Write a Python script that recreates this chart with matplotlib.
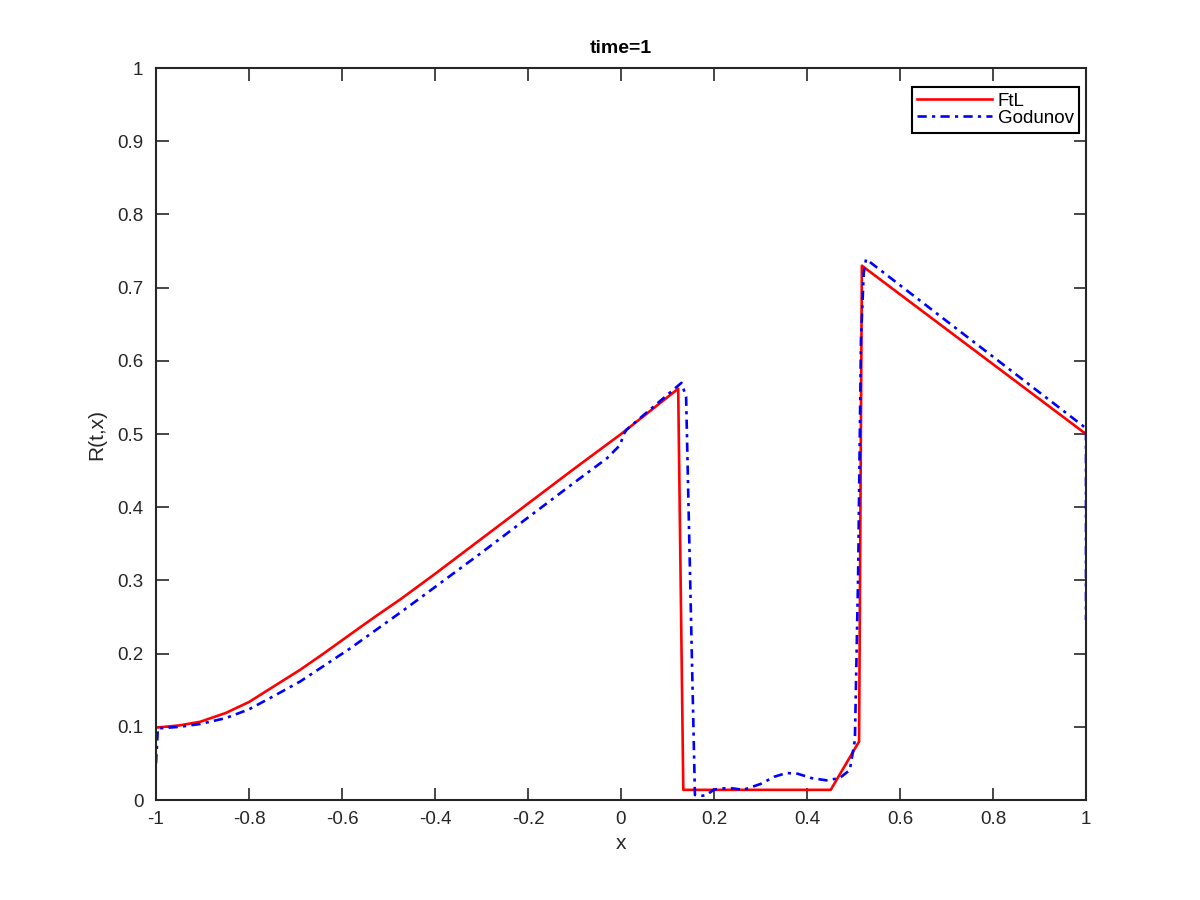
import matplotlib
matplotlib.use("Agg")
import matplotlib.pyplot as plt
import numpy as np

plt.rcParams['font.family'] = ['Liberation Sans', 'DejaVu Sans']

# FtL (Follow-the-Leader) solution at time=1
ftl_x = [-1.0, -0.95, -0.905, -0.85, -0.8, -0.75, -0.69, -0.64, -0.583, -0.53, -0.475, -0.4, -0.3,
         -0.2, -0.1, 0.0, 0.123, 0.134, 0.451, 0.512, 0.518, 1.0]
ftl_y = [0.099, 0.102, 0.107, 0.119, 0.134, 0.154, 0.178, 0.200, 0.226, 0.250, 0.274, 0.309, 0.357,
         0.405, 0.453, 0.500, 0.562, 0.014, 0.014, 0.080, 0.730, 0.500]

# Godunov solution at time=1
god_x = [-1.0, -0.996, -0.95, -0.905, -0.85, -0.8, -0.75, -0.69, -0.64, -0.583, -0.53, -0.475,
         -0.432, -0.3, -0.2, -0.1, -0.03, -0.002, 0.006, 0.012, 0.13, 0.14, 0.159, 0.175, 0.184,
         0.199, 0.213, 0.24, 0.263, 0.3, 0.33, 0.356, 0.38, 0.41, 0.442, 0.47, 0.492, 0.503,
         0.510, 0.516, 0.522, 0.527, 1.0, 1.0]
god_y = [0.050, 0.098, 0.100, 0.104, 0.112, 0.124, 0.141, 0.162, 0.183, 0.207, 0.231, 0.256,
         0.276, 0.338, 0.386, 0.434, 0.467, 0.485, 0.500, 0.506, 0.570, 0.551, 0.007, 0.006, 0.007,
         0.014, 0.016, 0.016, 0.014, 0.022, 0.032, 0.037, 0.036, 0.030, 0.027, 0.030, 0.041, 0.082,
         0.310, 0.628, 0.720, 0.739, 0.508, 0.246]

fig = plt.figure(figsize=(12, 9), dpi=100)
ax = fig.add_axes([0.13, 0.111, 0.775, 0.8134])

ax.plot(ftl_x, ftl_y, color='#ff0000', lw=1.9, label='FtL')
ax.plot(god_x, god_y, color='#0000ff', lw=1.9, ls='-.', dashes=(3.5, 2, 1.2, 2), label='Godunov')

ax.set_xlim(-1, 1)
ax.set_ylim(0, 1)
xt = [-1, -0.8, -0.6, -0.4, -0.2, 0, 0.2, 0.4, 0.6, 0.8, 1]
yt = [0, 0.1, 0.2, 0.3, 0.4, 0.5, 0.6, 0.7, 0.8, 0.9, 1]
ax.set_xticks(xt)
ax.set_xticklabels(['-1', '-0.8', '-0.6', '-0.4', '-0.2', '0', '0.2', '0.4', '0.6', '0.8', '1'])
ax.set_yticks(yt)
ax.set_yticklabels(['0', '0.1', '0.2', '0.3', '0.4', '0.5', '0.6', '0.7', '0.8', '0.9', '1'])
ax.tick_params(axis='both', direction='in', length=9, width=1.2, top=True, right=True,
               labelsize=13.5, colors='#262626')
ax.tick_params(axis='x', pad=8)
ax.tick_params(axis='y', pad=9)
for s in ax.spines.values():
    s.set_linewidth(1.5)
    s.set_color('#262626')

ax.set_xlabel('x', fontsize=15, color='#262626', labelpad=4)
ax.set_ylabel('R(t,x)', fontsize=15, color='#262626', labelpad=8)
ax.set_title('time=1', fontsize=14, fontweight='bold', color='#000000', pad=11)

leg = ax.legend(loc='upper right', fontsize=13.5, handlelength=4.0, borderpad=0.3,
                labelspacing=0.0, handletextpad=0.3, borderaxespad=0, fancybox=False,
                framealpha=1, bbox_to_anchor=(0.993, 0.974))
leg.get_frame().set_edgecolor('#000000')
leg.get_frame().set_linewidth(1.5)

fig.savefig('out.png', dpi=100)
